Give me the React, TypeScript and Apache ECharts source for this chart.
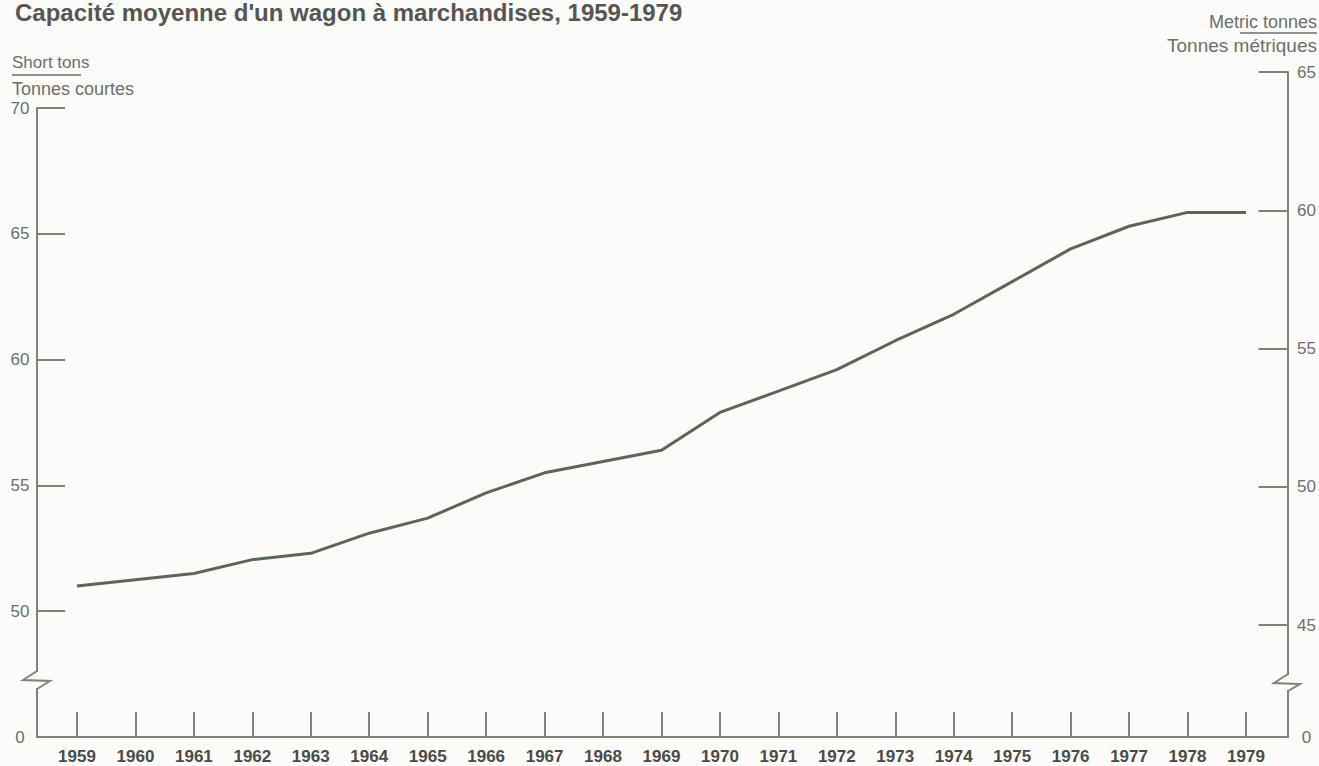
import React, { useEffect, useRef } from "react";
import * as echarts from "echarts";

const years = [1959, 1960, 1961, 1962, 1963, 1964, 1965, 1966, 1967, 1968, 1969, 1970, 1971, 1972, 1973, 1974, 1975, 1976, 1977, 1978, 1979];
const shortTons = [51.0, 51.25, 51.5, 52.05, 52.3, 53.1, 53.7, 54.7, 55.5, 55.95, 56.4, 57.9, 58.75, 59.6, 60.75, 61.8, 63.1, 64.4, 65.3, 65.85, 65.85];

const titleText = "Capacité moyenne d'un wagon à marchandises, 1959-1979";
const leftUnitTop = "Short tons";
const leftUnitBottom = "Tonnes courtes";
const rightUnitTop = "Metric tonnes";
const rightUnitBottom = "Tonnes métriques";

const FONT = "'Liberation Sans', Arial, Helvetica, sans-serif";
const AXIS = "#7b8679";
const LINE = "#5b665a";
const TEXT = "#6e6e6e";
const YEAR = "#4a4a4a";
const BG = "#fbfbf9";

export default function App() {
  const ref = useRef<HTMLDivElement>(null);
  useEffect(() => {
    if (!ref.current) return;
    const chart = echarts.init(ref.current, undefined, { renderer: "svg" });
    const data = years.map((y, i) => [y, shortTons[i]]);
    chart.setOption({
      animation: false,
      backgroundColor: BG,
      grid: [
        { left: 37, right: 31, top: 108, bottom: 29 },
        { left: 37, right: 31, top: 72, bottom: 29 },
      ],
      xAxis: [
        {
          type: "value",
          gridIndex: 0,
          min: 1958.316,
          max: 1979.719,
          minInterval: 1,
          maxInterval: 1,
          axisLine: { show: true, onZero: false, lineStyle: { color: AXIS, width: 2 } },
          axisTick: { show: true, inside: true, length: 25, lineStyle: { color: AXIS, width: 2 } },
          axisLabel: {
            formatter: (v: number) => (Number.isInteger(v) ? String(v) : ""),
            color: YEAR,
            fontSize: 17,
            fontWeight: "bold",
            fontFamily: FONT,
            margin: 11,
            showMinLabel: false,
            showMaxLabel: false,
          },
          splitLine: { show: false },
        },
        {
          type: "value",
          gridIndex: 1,
          min: 0,
          max: 1,
          show: false,
        },
      ],
      yAxis: [
        {
          type: "value",
          gridIndex: 0,
          position: "left",
          min: 45,
          max: 70,
          interval: 5,
          axisLine: { show: true, onZero: false, lineStyle: { color: AXIS, width: 2 } },
          axisTick: { show: true, inside: true, length: 28, lineStyle: { color: AXIS, width: 2 } },
          axisLabel: {
            formatter: (v: number) => (v === 45 ? "0" : String(v)),
            align: "center",
            margin: 17,
            color: TEXT,
            fontSize: 17,
            fontFamily: FONT,
          },
          splitLine: { show: false },
        },
        {
          type: "value",
          gridIndex: 1,
          position: "right",
          min: 40.95,
          max: 65,
          axisLine: { show: true, onZero: false, lineStyle: { color: AXIS, width: 2 } },
          axisTick: { show: true, inside: true, length: 29, lineStyle: { color: AXIS, width: 2 } },
          axisLabel: {
            formatter: (v: number) => (v < 44 ? "0" : String(Math.round(v))),
            align: "center",
            margin: 19,
            color: TEXT,
            fontSize: 17,
            fontFamily: FONT,
          },
          splitLine: { show: false },
        },
      ],
      series: [
        {
          type: "line",
          xAxisIndex: 0,
          yAxisIndex: 0,
          data,
          showSymbol: false,
          symbol: "none",
          lineStyle: { color: LINE, width: 3 },
          z: 5,
        },
      ],
      graphic: [
        {
          type: "text",
          left: 15,
          top: 0,
          style: { text: titleText, font: `bold 24px ${FONT}`, fill: "#555" },
        },
        {
          type: "text",
          x: 12,
          y: 62,
          style: { text: leftUnitTop, font: `17px ${FONT}`, fill: TEXT, verticalAlign: "middle", align: "left" },
        },
        {
          type: "line",
          shape: { x1: 12, y1: 75, x2: 81, y2: 75 },
          style: { stroke: TEXT, lineWidth: 1.5 },
        },
        {
          type: "text",
          x: 12,
          y: 89,
          style: { text: leftUnitBottom, font: `18px ${FONT}`, fill: TEXT, verticalAlign: "middle", align: "left" },
        },
        {
          type: "text",
          x: 1317,
          y: 22,
          style: { text: rightUnitTop, font: `18px ${FONT}`, fill: TEXT, verticalAlign: "middle", align: "right" },
        },
        {
          type: "line",
          shape: { x1: 1240, y1: 33, x2: 1317, y2: 33 },
          style: { stroke: TEXT, lineWidth: 1.5 },
        },
        {
          type: "text",
          x: 1317,
          y: 45,
          style: { text: rightUnitBottom, font: `19px ${FONT}`, fill: TEXT, verticalAlign: "middle", align: "right" },
        },
        {
          type: "rect",
          z: 100,
          shape: { x: 30, y: 672, width: 14, height: 16 },
          style: { fill: BG },
        },
        {
          type: "polyline",
          z: 101,
          shape: { points: [[37, 671], [23, 680], [50, 681], [37, 689]] },
          style: { stroke: AXIS, lineWidth: 2, fill: null },
        },
        {
          type: "rect",
          z: 100,
          shape: { x: 1281, y: 675, width: 14, height: 15 },
          style: { fill: BG },
        },
        {
          type: "polyline",
          z: 101,
          shape: { points: [[1288, 674], [1274, 683], [1300, 684], [1288, 691]] },
          style: { stroke: AXIS, lineWidth: 2, fill: null },
        },
      ],
    });
    return () => chart.dispose();
  }, []);
  return <div ref={ref} style={{ position: "absolute", left: 0, top: 0, width: 1319, height: 766 }} />;
}
